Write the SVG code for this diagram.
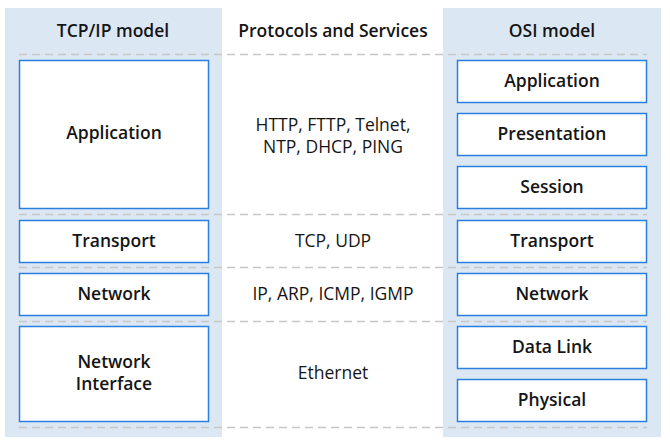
<svg xmlns="http://www.w3.org/2000/svg" width="670" height="440" viewBox="0 0 670 440">
<style>
.panel{fill:#dce7f4}
.box{fill:#fff;stroke:#2b7fdf;stroke-width:1.5}
.dash{stroke:#c6c6c6;stroke-width:1.5;stroke-dasharray:8,5;fill:none}
.h{font-family:"Open Sans","Liberation Sans",sans-serif;font-size:17.5px;font-weight:600;fill:#151515;text-anchor:middle}
.t{font-family:"Open Sans","Liberation Sans",sans-serif;font-size:17.5px;font-weight:400;fill:#151515;text-anchor:middle}
</style>
<rect width="670" height="440" fill="#fff"/>
<rect class="panel" x="5" y="8" width="217" height="429"/>
<rect class="panel" x="443" y="8" width="218" height="429"/>
<g id="headers">
<text class="h" x="113" y="37">TCP/IP model</text>
<text class="h" x="333" y="37">Protocols and Services</text>
<text class="h" x="552" y="37">OSI model</text>
</g>
<g id="connectors">
<line class="dash" x1="19" y1="54.5" x2="647" y2="54.5"/>
<line class="dash" x1="19" y1="214.5" x2="647" y2="214.5"/>
<line class="dash" x1="19" y1="267.5" x2="647" y2="267.5"/>
<line class="dash" x1="19" y1="321.5" x2="647" y2="321.5"/>
<line class="dash" x1="19" y1="427.5" x2="647" y2="427.5"/>
</g>
<g id="tcp-application"><rect class="box" x="19.5" y="60.5" width="189" height="148"/><text class="h" x="114" y="139">Application</text></g>
<g id="tcp-transport"><rect class="box" x="19.5" y="220.5" width="189" height="42"/><text class="h" x="114" y="247">Transport</text></g>
<g id="tcp-network"><rect class="box" x="19.5" y="273.5" width="189" height="42"/><text class="h" x="114" y="300">Network</text></g>
<g id="tcp-netif"><rect class="box" x="19.5" y="326.5" width="189" height="95"/><text class="h" x="114" y="368">Network</text><text class="h" x="114" y="390">Interface</text></g>
<g id="proto-app"><text class="t" x="333" y="131">HTTP, FTTP, Telnet,</text><text class="t" x="333" y="153">NTP, DHCP, PING</text></g>
<g id="proto-transport"><text class="t" x="333" y="247">TCP, UDP</text></g>
<g id="proto-network"><text class="t" x="333" y="300">IP, ARP, ICMP, IGMP</text></g>
<g id="proto-netif"><text class="t" x="333" y="379">Ethernet</text></g>
<g id="osi-application"><rect class="box" x="457.5" y="60.5" width="189" height="42"/><text class="h" x="552" y="87">Application</text></g>
<g id="osi-presentation"><rect class="box" x="457.5" y="113.5" width="189" height="42"/><text class="h" x="552" y="140">Presentation</text></g>
<g id="osi-session"><rect class="box" x="457.5" y="166.5" width="189" height="42"/><text class="h" x="552" y="193">Session</text></g>
<g id="osi-transport"><rect class="box" x="457.5" y="220.5" width="189" height="42"/><text class="h" x="552" y="247">Transport</text></g>
<g id="osi-network"><rect class="box" x="457.5" y="273.5" width="189" height="42"/><text class="h" x="552" y="300">Network</text></g>
<g id="osi-datalink"><rect class="box" x="457.5" y="326.5" width="189" height="42"/><text class="h" x="552" y="353">Data Link</text></g>
<g id="osi-physical"><rect class="box" x="457.5" y="379.5" width="189" height="42"/><text class="h" x="552" y="406">Physical</text></g>
</svg>
